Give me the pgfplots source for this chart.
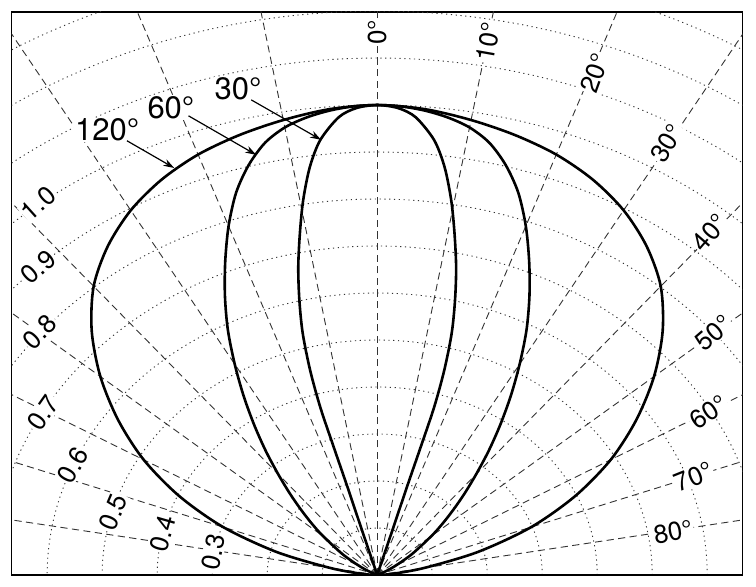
\documentclass[border=0pt]{standalone}
\usepackage{fontspec}
\setmainfont{TeX Gyre Heros}
\usepackage{pgfplots}
\pgfplotsset{compat=1.18}
\usetikzlibrary{arrows.meta}

\tikzset{
  ray/.style={black!80, line width=0.45pt, dash pattern=on 3.6pt off 2.2pt},
  circ/.style={black!80, line width=0.45pt, dash pattern=on 0.6pt off 1.8pt},
  glab/.style={fill=white, inner sep=0.6pt, font=\fontsize{13}{14}\selectfont},
  clab/.style={fill=white, inner sep=0.5pt, font=\fontsize{15.5}{17}\selectfont},
  carrow/.style={line width=0.6pt, -{Stealth[length=5.5pt,width=3.6pt]}},
  pat/.style={black, line width=1.3pt, smooth, tension=0.5},
}

\begin{document}
\begin{tikzpicture}
\begin{axis}[
  scale only axis, width=365.5pt, height=281.5pt,
  xmin=-0.6645, xmax=0.6645, ymin=0, ymax=1.198,
  ticks=none, axis line style={line width=0.7pt},
  clip=true,
]
\coordinate (sw) at (rel axis cs:0,0);
\coordinate (se) at (rel axis cs:1,0);
\coordinate (ne) at (rel axis cs:1,1);

% grid circles
\pgfplotsinvokeforeach{0.1,0.2,0.3,0.4,0.5,0.6,0.7,0.8,0.9,1.0,1.1,1.2,1.3}{
  \draw[circ] (axis cs:0,0) ellipse [x radius=#1, y radius=#1];
}
% grid rays
\draw[ray] (axis cs:0,0) -- (axis cs:1.5757,0.2778);
\draw[ray] (axis cs:0,0) -- (axis cs:1.5035,0.5472);
\draw[ray] (axis cs:0,0) -- (axis cs:1.3856,0.8);
\draw[ray] (axis cs:0,0) -- (axis cs:1.2257,1.0285);
\draw[ray] (axis cs:0,0) -- (axis cs:1.0285,1.2257);
\draw[ray] (axis cs:0,0) -- (axis cs:0.8,1.3856);
\draw[ray] (axis cs:0,0) -- (axis cs:0.5472,1.5035);
\draw[ray] (axis cs:0,0) -- (axis cs:0.2778,1.5757);
\draw[ray] (axis cs:0,0) -- (axis cs:0,1.6);
\draw[ray] (axis cs:0,0) -- (axis cs:-0.2778,1.5757);
\draw[ray] (axis cs:0,0) -- (axis cs:-0.5472,1.5035);
\draw[ray] (axis cs:0,0) -- (axis cs:-0.8,1.3856);
\draw[ray] (axis cs:0,0) -- (axis cs:-1.0285,1.2257);
\draw[ray] (axis cs:0,0) -- (axis cs:-1.2257,1.0285);
\draw[ray] (axis cs:0,0) -- (axis cs:-1.3856,0.8);
\draw[ray] (axis cs:0,0) -- (axis cs:-1.5035,0.5472);
\draw[ray] (axis cs:0,0) -- (axis cs:-1.5757,0.2778);

% angle labels
\node[glab, rotate=90] at (axis cs:0,1.155) {0°};
\node[glab, rotate=80] at (axis cs:0.2018,1.134) {10°};
\node[glab, rotate=70] at (axis cs:0.396,1.068) {20°};
\node[glab, rotate=58] at (axis cs:0.527,0.919) {30°};
\node[glab, rotate=49] at (axis cs:0.605,0.728) {40°};
\node[glab, rotate=41] at (axis cs:0.611,0.515) {50°};
\node[glab, rotate=34] at (axis cs:0.602,0.347) {60°};
\node[glab, rotate=22] at (axis cs:0.575,0.2085) {70°};
\node[glab, rotate=11] at (axis cs:0.538,0.0915) {80°};

% radius labels
\node[glab, rotate=77] at (axis cs:-0.298,0.049) {0.3};
\node[glab, rotate=74] at (axis cs:-0.389,0.089) {0.4};
\node[glab, rotate=67] at (axis cs:-0.48,0.134) {0.5};
\node[glab, rotate=60] at (axis cs:-0.553,0.234) {0.6};
\node[glab, rotate=55] at (axis cs:-0.607,0.345) {0.7};
\node[glab, rotate=45] at (axis cs:-0.613,0.517) {0.8};
\node[glab, rotate=42] at (axis cs:-0.616,0.655) {0.9};
\node[glab, rotate=42] at (axis cs:-0.616,0.791) {1.0};

% 120 degree pattern
\addplot[pat] coordinates {
(0,0) (-0.0279,0.0024) (-0.0867,0.0153) (-0.1835,0.0492) (-0.2800,0.1019)
(-0.3598,0.1678) (-0.4244,0.2450) (-0.4710,0.3298) (-0.5033,0.4223) (-0.5190,0.5190)
(-0.5155,0.6144) (-0.4898,0.6996) (-0.4480,0.7760) (-0.3922,0.8411) (-0.3256,0.8946)
(-0.2508,0.9360) (-0.1707,0.9681) (-0.0867,0.9912) (0,1)
(0.0867,0.9912) (0.1707,0.9681) (0.2508,0.9360) (0.3256,0.8946) (0.3922,0.8411)
(0.4480,0.7760) (0.4898,0.6996) (0.5155,0.6144) (0.5190,0.5190) (0.5033,0.4223)
(0.4710,0.3298) (0.4244,0.2450) (0.3598,0.1678) (0.2800,0.1019) (0.1835,0.0492)
(0.0867,0.0153) (0.0279,0.0024) (0,0)
};
% 60 degree pattern
\addplot[pat] coordinates {
(0,0) (-0.0091,0.0042) (-0.0303,0.0175) (-0.0623,0.0436) (-0.0981,0.0823)
(-0.1180,0.1081) (-0.1379,0.1379) (-0.1588,0.1733) (-0.1800,0.2145) (-0.2027,0.2642)
(-0.2237,0.3195) (-0.2429,0.3812) (-0.2590,0.4486) (-0.2715,0.5216) (-0.2768,0.5936)
(-0.2763,0.6670) (-0.2702,0.7424) (-0.2565,0.8135) (-0.2337,0.8722) (-0.2039,0.9197)
(-0.1679,0.9523) (-0.1282,0.9736) (-0.0865,0.9882) (-0.0435,0.9971) (0,1)
(0.0435,0.9971) (0.0865,0.9882) (0.1282,0.9736) (0.1679,0.9523) (0.2039,0.9197)
(0.2337,0.8722) (0.2565,0.8135) (0.2702,0.7424) (0.2763,0.6670) (0.2768,0.5936)
(0.2715,0.5216) (0.2590,0.4486) (0.2429,0.3812) (0.2237,0.3195) (0.2027,0.2642)
(0.1800,0.2145) (0.1588,0.1733) (0.1379,0.1379) (0.1180,0.1081) (0.0981,0.0823)
(0.0623,0.0436) (0.0303,0.0175) (0.0091,0.0042) (0,0)
};
% 30 degree pattern
\addplot[pat] coordinates {
(0,0) (-0.0278,0.0957) (-0.0540,0.187) (-0.0790,0.272) (-0.1035,0.357)
(-0.1220,0.436) (-0.1355,0.515) (-0.1415,0.585) (-0.1435,0.655) (-0.1405,0.728)
(-0.1345,0.798) (-0.1225,0.868) (-0.1035,0.9255) (-0.0700,0.974) (-0.0380,0.9935) (0,1)
(0.0380,0.9935) (0.0700,0.974) (0.1035,0.9255) (0.1225,0.868) (0.1345,0.798)
(0.1405,0.728) (0.1435,0.655) (0.1415,0.585) (0.1355,0.515) (0.1220,0.436)
(0.1035,0.357) (0.0790,0.272) (0.0540,0.187) (0.0278,0.0957) (0,0)
};

% callouts
\node[clab] at (axis cs:-0.491,0.947) {120°};
\draw[carrow] (axis cs:-0.455,0.924) -- (axis cs:-0.369,0.866);
\node[clab] at (axis cs:-0.375,0.994) {60°};
\draw[carrow] (axis cs:-0.343,0.977) -- (axis cs:-0.220,0.894);
\node[clab] at (axis cs:-0.253,1.034) {30°};
\draw[carrow] (axis cs:-0.229,1.011) -- (axis cs:-0.102,0.926);
\end{axis}
\draw[line width=1.4pt] (sw) -- (se);
\pgfresetboundingbox
\path ([shift={(-5.85pt,-6pt)}]sw) rectangle ([shift={(6.65pt,6pt)}]ne);
\end{tikzpicture}
\end{document}
